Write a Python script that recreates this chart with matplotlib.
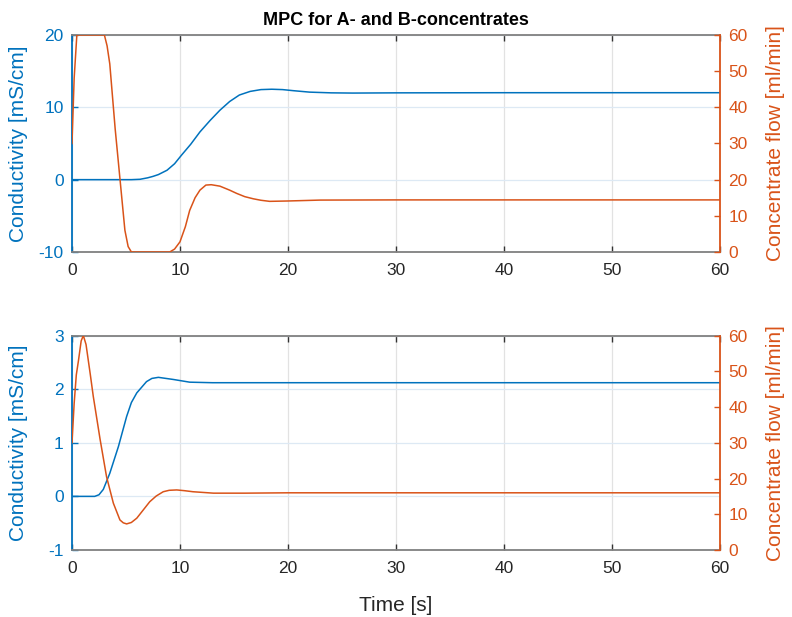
import matplotlib
matplotlib.use("Agg")
from matplotlib import pyplot as plt

plt.rcParams['font.family'] = ['Liberation Sans', 'DejaVu Sans']
plt.rcParams['axes.unicode_minus'] = False

BLUE = '#0072BD'
ORANGE = '#D95319'
GRAY = '#808080'

# top panel: A-concentrate
t_cond_a = [0, 5.5, 6.3, 7.0, 7.5, 8.0, 8.8, 9.5, 10.15, 11.0, 11.85, 12.8, 13.7, 14.6,
            15.5, 16.5, 17.5, 18.5, 19.5, 20.5, 22, 24, 26, 30, 40, 60]
cond_a = [0, 0, 0.05, 0.25, 0.45, 0.7, 1.3, 2.2, 3.4, 4.9, 6.6, 8.2, 9.6, 10.8,
          11.7, 12.2, 12.45, 12.5, 12.45, 12.3, 12.1, 12.0, 11.97, 12.0, 12.02, 12.02]
t_flow_a = [0, 0.2, 0.45, 3.0, 3.25, 3.5, 4.0, 4.45, 4.9, 5.2, 5.5, 9.05, 9.5, 10.0, 10.5,
            10.9, 11.4, 11.85, 12.4, 12.9, 13.7, 14.6, 15.25, 16.0, 16.8, 17.5, 18.3, 20,
            23, 30, 60]
flow_a = [30, 48, 60, 60, 57, 52, 34, 20, 6, 1.5, 0, 0, 0.8, 2.8, 7,
          11.5, 15, 17.1, 18.5, 18.6, 18.2, 17.1, 16.2, 15.3, 14.7, 14.3, 14.0, 14.1,
          14.35, 14.4, 14.4]

# bottom panel: B-concentrate
t_cond_b = [0, 2.1, 2.5, 2.9, 3.5, 4.3, 5.06, 5.5, 6.0, 6.9, 7.4, 8.0, 8.7, 9.4, 10.9,
            13, 20, 60]
cond_b = [0, 0, 0.03, 0.13, 0.43, 0.93, 1.49, 1.75, 1.93, 2.14, 2.2, 2.22, 2.2, 2.18,
          2.13, 2.12, 2.12, 2.12]
t_flow_b = [0, 0.2, 0.4, 0.6, 0.85, 1.05, 1.3, 1.7, 1.97, 2.6, 3.2, 3.83, 4.44, 4.75,
            5.06, 5.5, 6.0, 6.6, 7.2, 7.8, 8.45, 9.0, 9.7, 10.4, 11.2, 13.1, 16, 20, 60]
flow_b = [30, 41, 49, 53, 58.5, 60, 57.5, 49, 43, 31, 20.5, 13.1, 8.4, 7.6,
          7.3, 7.7, 8.9, 11.2, 13.5, 15.1, 16.3, 16.7, 16.8, 16.6, 16.3, 15.9, 15.9, 16.0,
          16.0]

xticks = [0, 10, 20, 30, 40, 50, 60]


def panel(rect, t1, y1, t2, y2, ylim, yticks):
    ax = fig.add_axes(rect)
    ax.plot(t1, y1, color=BLUE, lw=1.1)
    ax.set_xlim(0, 60)
    ax.set_ylim(*ylim)
    ax.set_xticks(xticks)
    ax.set_yticks(yticks)
    ax.set_axisbelow(True)
    ax.xaxis.grid(True, color='#e2e2e2', lw=0.9)
    ax.yaxis.grid(True, color='#dde9f4', lw=0.9)
    ax.tick_params(axis='x', direction='in', length=4, width=1, color='#333333',
                   labelsize=12.5, labelcolor='#262626', pad=8, top=True)
    ax.tick_params(axis='y', direction='in', length=4, width=1, color=BLUE,
                   labelsize=12.5, labelcolor=BLUE, pad=6)
    ax.set_ylabel('Conductivity [mS/cm]', color=BLUE, fontsize=15)
    ax.yaxis.set_label_coords(-0.068, 0.5)
    ax.spines['left'].set_color(BLUE)
    ax.spines['left'].set_linewidth(1.3)
    ax.spines['right'].set_visible(False)
    for s in ('top', 'bottom'):
        ax.spines[s].set_color(GRAY)
        ax.spines[s].set_linewidth(1.3)

    ax2 = ax.twinx()
    ax2.plot(t2, y2, color=ORANGE, lw=1.1)
    ax2.set_ylim(0, 60)
    ax2.set_yticks([0, 10, 20, 30, 40, 50, 60])
    ax2.tick_params(axis='y', direction='in', length=4, width=1, color=ORANGE,
                    labelsize=12.5, labelcolor=ORANGE, pad=6)
    ax2.set_ylabel('Concentrate flow [ml/min]', color=ORANGE, fontsize=15)
    ax2.yaxis.set_label_coords(1.072, 0.5)
    ax2.spines['right'].set_color(ORANGE)
    ax2.spines['right'].set_linewidth(1.3)
    for s in ('left', 'top', 'bottom'):
        ax2.spines[s].set_visible(False)
    return ax


fig = plt.figure(figsize=(7.92, 6.17), dpi=100)

ax_top = panel([0.0909, 0.5916, 0.818, 0.3517], t_cond_a, cond_a, t_flow_a, flow_a,
               (-10, 20), [-10, 0, 10, 20])
ax_top.set_title('MPC for A- and B-concentrates', fontsize=13, fontweight='bold', pad=7)

ax_bot = panel([0.0909, 0.1086, 0.818, 0.3476], t_cond_b, cond_b, t_flow_b, flow_b,
               (-1, 3), [-1, 0, 1, 2, 3])
ax_bot.set_xlabel('Time [s]', fontsize=15, color='#262626', labelpad=14)

fig.savefig('out.png', dpi=100)
